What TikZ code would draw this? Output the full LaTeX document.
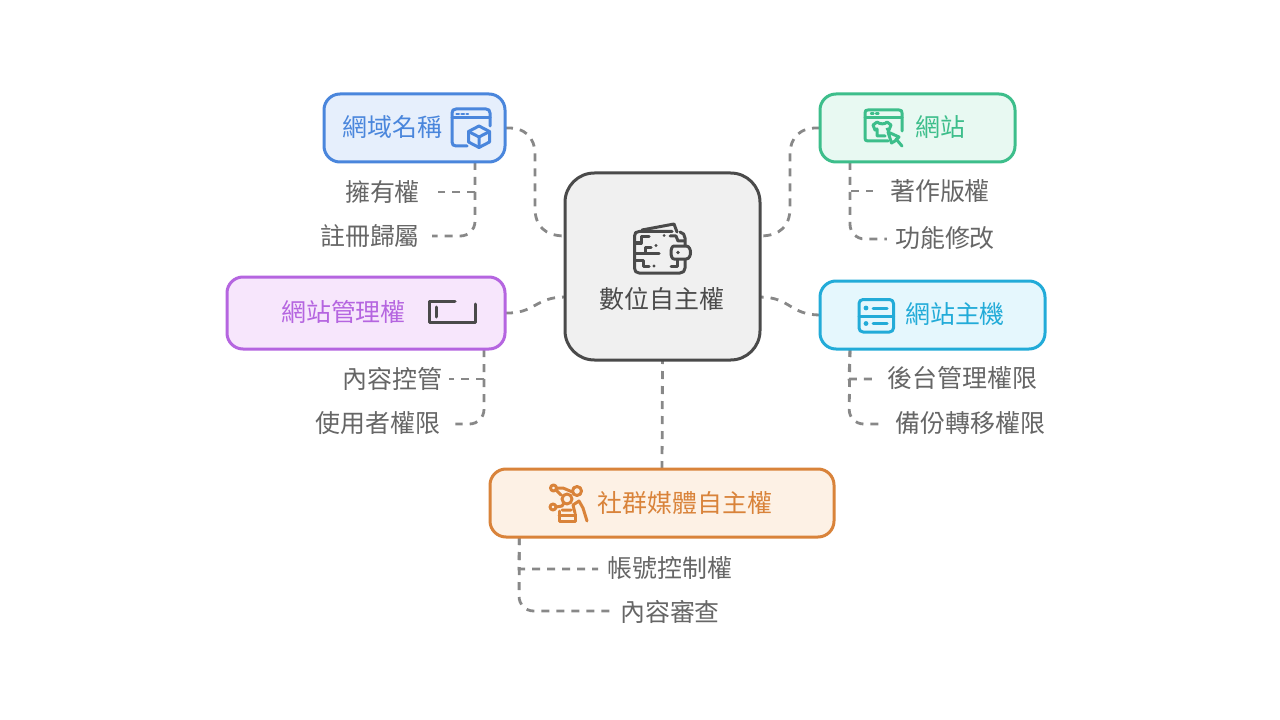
\documentclass[tikz,border=0pt]{standalone}
\usepackage{fontspec}
\usetikzlibrary{calc}
\newfontfamily\cjk{Noto Sans CJK TC}
\definecolor{cblue}{HTML}{4A86DC}\definecolor{fblue}{HTML}{E6EFFC}
\definecolor{cgreen}{HTML}{3DBE8B}\definecolor{fgreen}{HTML}{E8F9F2}
\definecolor{cpurp}{HTML}{B565E0}\definecolor{fpurp}{HTML}{F7E6FC}
\definecolor{ccyan}{HTML}{22ABD8}\definecolor{fcyan}{HTML}{E5F7FD}
\definecolor{corng}{HTML}{D9833A}\definecolor{forng}{HTML}{FDF1E5}
\definecolor{cdark}{HTML}{4A4A4A}\definecolor{fdark}{HTML}{F0F0F0}
\definecolor{cline}{HTML}{888888}\definecolor{cleaf}{HTML}{666666}
\tikzset{
  boxnode/.style={draw,line width=2.25pt,rounded corners=12pt,inner sep=0pt,outer sep=0pt,anchor=center},
  conn/.style={draw=cline,line width=2.1pt,dash pattern=on 6pt off 5.25pt},
  leafnode/.style={text=cleaf,inner sep=0pt,font=\cjk\fontsize{18.7pt}{20pt}\selectfont},
  headnode/.style={inner sep=0pt,font=\cjk\fontsize{18.7pt}{20pt}\selectfont},
  ico/.style={line width=2.25pt,line cap=round,line join=round},
}
\begin{document}
\begin{tikzpicture}[x=0.75pt,y=-0.75pt]
\useasboundingbox (0,0) rectangle (1280,720);
\fill[white] (0,0) rectangle (1280,720);
% box geometry
\node[boxnode,draw=none,minimum width=146.25pt,minimum height=140.25pt] (c) at (662.5,266.5) {};
\node[boxnode,draw=none,minimum width=135.75pt,minimum height=51pt] (bl) at (414.5,128) {};
\node[boxnode,draw=none,minimum width=146.25pt,minimum height=51pt] (gr) at (917.5,128) {};
\node[boxnode,draw=none,minimum width=208.5pt,minimum height=54pt] (pu) at (366,313) {};
\node[boxnode,draw=none,minimum width=168.75pt,minimum height=51pt] (cy) at (932.5,315) {};
\node[boxnode,draw=none,minimum width=258pt,minimum height=51pt] (or) at (662,503) {};
% leaves
\node[leafnode] (l1a) at (382.5,195) {\strut 擁有權};
\node[leafnode] (l1b) at (370,239) {\strut 註冊歸屬};
\node[leafnode] (l2a) at (940,194) {\strut 著作版權};
\node[leafnode] (l2b) at (945,241) {\strut 功能修改};
\node[leafnode] (l3a) at (392.5,382) {\strut 內容控管};
\node[leafnode] (l3b) at (378,426) {\strut 使用者權限};
\node[leafnode] (l4a) at (962.5,381) {\strut 後台管理權限};
\node[leafnode] (l4b) at (970.5,426) {\strut 備份轉移權限};
\node[leafnode] (l5a) at (670,571) {\strut 帳號控制權};
\node[leafnode] (l5b) at (670,615) {\strut 內容審查};
% connectors
\coordinate (cUL) at ([yshift=22.9pt]c.west);
\coordinate (cLL) at ([yshift=-22.9pt]c.west);
\coordinate (cUR) at ([yshift=22.9pt]c.east);
\coordinate (cLR) at ([yshift=-22.9pt]c.east);
\draw[conn] (bl.east) .. controls (525,127) and (535,137) .. (535,155) -- (535,208) .. controls (535,226) and (545,236) .. (cUL);
\draw[conn] (gr.west) .. controls (800,127) and (790,137) .. (790,155) -- (790,208) .. controls (790,226) and (780,236) .. (cUR);
\draw[conn] (pu.east) .. controls (535,314) and (535,297) .. (cLL);
\draw[conn] (cy.west) .. controls (790,315) and (790,297) .. (cLR);
\draw[conn] (or.north) -- (c.south);
\coordinate (b1) at ($(bl.south east)+(-22.5pt,0)$);
\coordinate (b2) at ($(gr.south west)+(22.5pt,0)$);
\coordinate (b3) at ($(pu.south east)+(-15.75pt,0)$);
\coordinate (b4) at ($(cy.south west)+(22.5pt,0)$);
\coordinate (b5) at ($(or.south west)+(22pt,0)$);
\draw[conn] (b1) -- (475,192) -- ([xshift=13.5pt,yshift=2.25pt]l1a.east);
\draw[conn,rounded corners=11pt] (b1) -- (475,236) -- ([xshift=9pt,yshift=2.25pt]l1b.east);
\draw[conn] (b2) -- (850,191) -- ([xshift=-13pt,yshift=2.25pt]l2a.west);
\draw[conn,rounded corners=11pt] (b2) -- (850,239) -- ([xshift=-6pt,yshift=1.5pt]l2b.west);
\draw[conn] (b3) -- (484,379) -- ([xshift=4.5pt,yshift=2.25pt]l3a.east);
\draw[conn,rounded corners=11pt] (b3) -- (484,424) -- ([xshift=11pt,yshift=1.5pt]l3b.east);
\draw[conn] (b4) -- (849,379) -- ([xshift=-11pt,yshift=1.5pt]l4a.west);
\draw[conn,rounded corners=11pt] (b4) -- (849,424) -- ([xshift=-11pt,yshift=1.5pt]l4b.west);
\draw[conn] (b5) -- (519,569) -- ([xshift=-7pt,yshift=1.5pt]l5a.west);
\draw[conn,rounded corners=11pt] (b5) -- (519,611) -- ([xshift=-7pt,yshift=3pt]l5b.west);
% boxes on top of connector ends
\draw[draw=cdark,line width=2.25pt,fill=fdark,rounded corners=22pt] (c.south west) rectangle (c.north east);
\draw[draw=cblue,line width=2.25pt,fill=fblue,rounded corners=12pt] (bl.south west) rectangle (bl.north east);
\draw[draw=cgreen,line width=2.25pt,fill=fgreen,rounded corners=12pt] (gr.south west) rectangle (gr.north east);
\draw[draw=cpurp,line width=2.25pt,fill=fpurp,rounded corners=12pt] (pu.south west) rectangle (pu.north east);
\draw[draw=ccyan,line width=2.25pt,fill=fcyan,rounded corners=12pt] (cy.south west) rectangle (cy.north east);
\draw[draw=corng,line width=2.25pt,fill=forng,rounded corners=12pt] (or.south west) rectangle (or.north east);
% heads
\node[headnode,text=cblue] (t1) at (392.5,130) {\strut 網域名稱};
\node[headnode,text=cgreen] (t2) at (940,130) {\strut 網站};
\node[headnode,text=cpurp] (t3) at (343.5,315) {\strut 網站管理權};
\node[headnode,text=ccyan] (t4) at (955,317) {\strut 網站主機};
\node[headnode,text=corng] (t5) at (685,506) {\strut 社群媒體自主權};
\node[headnode,text=cdark] (t0) at (662,302) {\strut 數位自主權};
% icon: blue window + cube
\begin{scope}[ico,draw=cblue]
\draw (467,146) -- (456,146) .. controls (453.5,146) and (452,144.5) .. (452,142) -- (452,113) .. controls (452,110.5) and (453.5,109) .. (456,109) -- (486,109) .. controls (488.5,109) and (490,110.5) .. (490,113) -- (490,126);
\draw (452,118) -- (490,118);
\draw[line width=1.8pt,dash pattern=on 1.8pt off 2pt] (456.5,114) -- (468,114);
\draw (479,126) -- (489.5,131.5) -- (489.5,142) -- (479,147.5) -- (468.5,142) -- (468.5,131.5) -- cycle;
\draw (468.5,131.5) -- (479,137) -- (489.5,131.5) (479,137) -- (479,147.5);
\end{scope}
% icon: green window + shirt + cursor
\begin{scope}[ico,draw=cgreen]
\draw (888,141) -- (868,141) .. controls (865.5,141) and (865,140) .. (865,138) -- (865,113) .. controls (865,110.5) and (866,110) .. (868,110) -- (899,110) .. controls (901.5,110) and (902,111) .. (902,113) -- (902,131);
\draw (865,118) -- (902,118);
\draw[line width=1.8pt,dash pattern=on 1.8pt off 2pt] (871,113.5) -- (881,113.5);
\draw (877,122) -- (873,125) -- (875,130) -- (877,129) -- (877,136) -- (885,136) (887,129) -- (889,130) -- (891,125) -- (887,122) .. controls (885,124.5) and (880,124.5) .. (877,122);
\draw (888,132) -- (899,137) -- (895,141) -- (891.5,143) -- cycle;
\draw (896,139) -- (902,146);
\end{scope}
% icon: wallet
\begin{scope}[ico,draw=cdark]
\draw (672,231.5) -- (639,231.5) .. controls (636,231.5) and (634.5,233) .. (634.5,236) -- (634.5,268) .. controls (634.5,271) and (636,273) .. (639,273) -- (680,273) .. controls (683,273) and (685,271) .. (685,268) -- (685,259.5);
\draw (685,246) -- (685,238) .. controls (685,235) and (683,232.5) .. (680,232);
\draw (642,230) -- (674,224) -- (677,232);
\draw[fill=fdark] (674,246) -- (686,246) .. controls (692,246) and (692,259) .. (686,259) -- (674,259) .. controls (670,259) and (670,246) .. (674,246);
\fill[cdark] (678,252.5) circle (1.8);
\draw (634.5,243) -- (641,243) -- (641,237) -- (649,237);
\draw (634.5,253) -- (659,253) (645,253) -- (645,247) -- (651,247);
\draw (634.5,260) -- (643,260) -- (643,266) -- (649,266);
\fill[cdark] (656,245.5) circle (1.6) (654,266) circle (1.6) (664,235.5) circle (1.5);
\draw (670,236) -- (676,236) -- (678,241) -- (684,241);
\draw (671,266) -- (677,266) -- (677,260);
\end{scope}
% icon: purple (dark open rectangle)
\begin{scope}[ico,draw=cdark]
\draw (455,301) -- (429.5,301) -- (429.5,322) -- (475.5,322) -- (475.5,304);
\draw (436,307) -- (436,317);
\end{scope}
% icon: server
\begin{scope}[ico,draw=ccyan]
\draw[rounded corners=3pt] (859,299.5) rectangle (893.5,332);
\draw (859,316) -- (893.5,316);
\draw (873,308) -- (887,308) (873,323.5) -- (887,323.5);
\fill[ccyan] (866,308) circle (2.4) (866,323.5) circle (2.4);
\end{scope}
% icon: social
\begin{scope}[ico,draw=corng]
\draw (577,491) circle (4.5) (553.5,488) circle (3) (553,507) circle (3) (567,499) circle (5);
\draw (556,490) -- (561,495) (572.5,492) -- (563,488) -- (557,488);
\draw (556,507) -- (562,506) -- (564,503);
\draw (559,511) -- (559,521) -- (575,521) -- (575,514) (559,515) -- (575,515);
\draw (562,510) -- (571,510) (575,513) -- (573,505) -- (579,501) -- (583,508) -- (587,521);
\end{scope}
\end{tikzpicture}
\end{document}
